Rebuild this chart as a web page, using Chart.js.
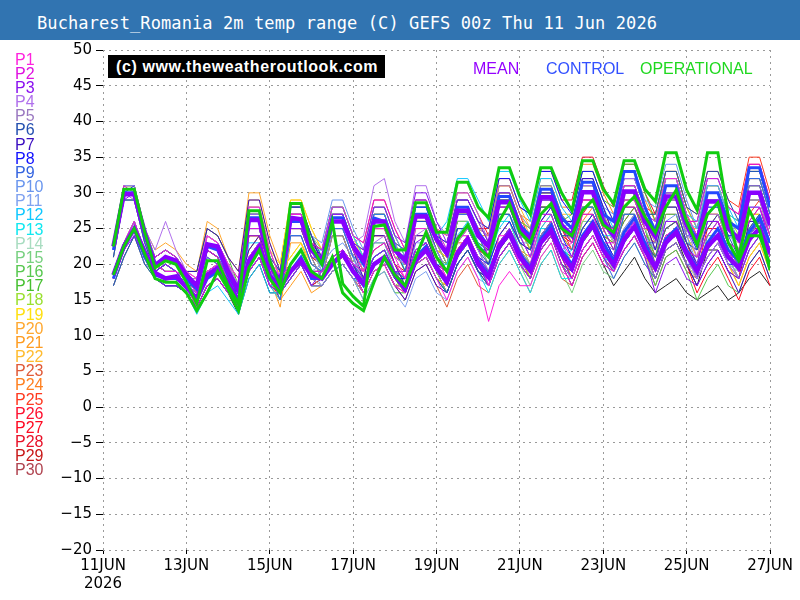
<!DOCTYPE html>
<html lang="en">
<head>
  <meta charset="UTF-8">
  <title>Bucharest_Romania 2m temp range (C) GEFS 00z</title>
  <script src="https://cdn.jsdelivr.net/npm/chart.js"></script>
  <style>
    body { margin: 0; background: #fff; }
    #wrap { position: relative; width: 800px; height: 600px; overflow: hidden; }
    canvas { position: absolute; left: 0; top: 0; }
    #titleBar { position: absolute; left: 0; top: 0; width: 800px; height: 40px; background: #3174b1; }
    #titleBar span { position: absolute; left: 37px; top: 15px; color: #fff; font: 17px 'DejaVu Sans Mono', monospace; line-height: 17px; letter-spacing: 0.1px; white-space: pre; }
    .plabel { position: absolute; left: 15px; font: 16px 'Liberation Sans', Arial, sans-serif; line-height: 16px; }
    #stamp { position: absolute; left: 108px; top: 55px; width: 277px; height: 23px; background: #000; color: #fff; font: bold 16px 'Liberation Sans', Arial, sans-serif; line-height: 23px; padding-left: 8px; box-sizing: border-box; letter-spacing: 0.6px; white-space: pre; }
    .key { position: absolute; top: 61px; font: 16px 'Liberation Sans', Arial, sans-serif; line-height: 16px; }
  </style>
</head>
<body>
  <div id="wrap">
    <canvas id="chart" width="800" height="600"></canvas>
    <div id="titleBar"><span>Bucharest_Romania 2m temp range (C) GEFS 00z Thu 11 Jun 2026</span></div>
    <div id="stamp">(c) www.theweatheroutlook.com</div>
    <div class="key" style="left:473px;color:#9400ff">MEAN</div>
    <div class="key" style="left:546px;color:#3250ff">CONTROL</div>
    <div class="key" style="left:640px;color:#1fd81f">OPERATIONAL</div>
    <div id="plabels"></div>
  </div>

  <script>
    // forecast hours from 11 Jun 00z, 6-hourly steps
    const hours = [6,12,18,24,30,36,42,48,54,60,66,72,78,84,90,96,102,108,114,120,126,132,138,144,150,156,162,168,174,180,186,192,198,204,210,216,222,228,234,240,246,252,258,264,270,276,282,288,294,300,306,312,318,324,330,336,342,348,354,360,366,372,378,384];

    const meanMax = [22.5,29.8,29.8,24.5, 19.8,21,20.5,18.5, 17,22.8,22.5,19, 16.3,26.2,26.2,20, 17.5,26.5,26.3,22, 20.5,26,26,22.5, 20.5,26,26,22, 20.5,26.7,26.7,23.5, 21.5,27.5,27.5,24, 22.5,28.7,28.7,25, 23.3,29.4,29.4,25.5, 24,30.1,30.1,26, 24,30.2,30.2,26, 23.9,29.5,29.5,25.5, 23,28.8,28.8,25, 23.5,30,30,25.5];
    const meanMin = [18.5,22.5,25,21.8, 18.8,18,18.3,16.8, 15.2,18.5,19.5,17.5, 14.8,20.5,22.5,18.4, 16.8,19,20.5,18.5, 18,20,21.5,19, 17.3,20,21,18.5, 16.6,20.5,22,19.5, 17.5,21.5,23.5,20, 18.2,22.5,24.3,21, 19.1,23,24.7,21.5, 19.4,23.5,25.5,22, 19.9,23.5,25.3,22, 19.5,23,24.5,21.5, 19,22.5,24,21, 19.5,23.5,25,21.5];

    const ctrlMax = [22,30,30,24, 20,21,20.5,18, 16.5,22.5,22,18.5, 16,26.5,26.5,20, 17,26,26,22, 20,26.5,26.5,22.5, 20,26.5,26,22, 20.5,27,27,23.5, 21.5,28,28,24.5, 22.5,29.5,29.5,25.5, 24,30.5,30.5,26.5, 25,31.5,31.5,27, 26,33,33,28, 24.5,31,31,26, 23.5,30,30,26, 25,33.5,33.5,28];
    const ctrlMin = [18,22.5,25,21, 18.5,18,18,17, 15,18,19,17, 15,20,22,18, 16.5,19,21,18, 18,20,21.5,19, 17,20,21,18.5, 17,21,22.5,19.5, 17.5,21.5,23.5,20.5, 18.5,22.5,24.5,21.5, 19.5,23.5,25.5,22, 20,24,26,23, 20.5,24.5,26.5,23, 19.5,23.5,25,22, 19.5,23,25,22, 20.5,24.5,26.5,23];

    const opMax = [22.5,30.5,30.5,24.5, 19.5,20.5,20,17.5, 14.5,20.5,20.5,17, 14.5,27.5,27.5,20.5, 17,28.5,28.5,22.5, 20,26,17.3,15.5, 14.1,25.3,25.5,22, 22,28.6,28.6,24.5, 24.5,31.5,31.5,28, 26.5,33.5,33.5,29.5, 27,33.5,33.5,30, 27.5,34.5,34.5,30.5, 28.5,34.5,34.5,30.5, 28.8,35.6,35.6,30.4, 27.6,35.6,35.6,26.7, 21,27.6,24.8,19.2];
    const opMin = [18.5,22.5,25,21.5, 18,17.5,17.5,16, 13.5,16,19,16.5, 13.5,19.5,22,18, 16,20,22,19, 18,21,16,14.5, 13.5,17.5,21,18.5, 17,21,24.5,21, 19,23.5,25.5,22.5, 21,26,28.5,24.5, 23,27,28.5,25, 24,27.5,29,25.5, 24.5,28,29.5,26.7, 24.4,28,30.4,26, 22.7,27,28.6,23, 20.5,24,24,20];

    // perturbation members P1..P30, upper (6h max) and lower (6h min) traces
    const pertMax = [
      [22,30,30,24,21,22,21,19,18,24,23,20,18,28,28,22,18,27,27,23,20,26,26,22,19,25,25,21,18,25,25,21,18,24,24,21,17,24,24,20,20,26,26,22,23,29,29,25,25,31,31,27,26,32,32,27,24,30,30,26,23,30,30,25],
      [23,31,30,25,20,21,20,18,16,22,21,18,15,25,25,19,18,27,27,23,22,28,28,24,23,29,29,25,22,29,29,25,22,28,28,25,21,28,28,24,21,27,27,23,21,27,27,23,23,29,29,25,25,31,31,26,26,32,32,28,27,34,34,29],
      [22,29,30,24,19,20,19,17,15,21,20,17,14,24,24,18,16,25,25,21,21,27,27,23,22,28,28,24,23,30,30,26,23,29,29,26,23,30,30,26,23,29,29,25,23,29,29,25,22,28,28,24,20,26,26,21,20,26,26,22,21,28,28,23],
      [23,31,31,25,22,26,22,19,18,24,23,20,17,27,27,21,17,26,26,22,21,27,27,23,24,31,32,26,23,31,31,26,24,30,30,27,23,30,30,26,23,29,29,25,25,31,31,27,26,32,32,28,24,30,30,25,21,27,27,23,22,29,29,24],
      [22,30,29,24,20,21,20,18,18,24,23,20,16,26,26,20,16,25,25,21,18,24,24,20,19,25,25,21,20,27,27,23,22,28,28,25,24,31,31,27,25,31,31,27,25,31,31,27,24,30,30,26,23,29,29,24,23,29,29,25,24,31,31,26],
      [21,29,29,23,19,20,19,17,17,23,22,19,17,27,27,21,19,28,28,24,21,27,27,23,20,26,26,22,19,26,26,22,19,25,25,22,20,27,27,23,22,28,28,24,24,30,30,26,25,31,31,27,27,33,33,28,27,33,33,29,26,33,33,28],
      [22,30,30,24,21,22,21,19,19,25,24,21,19,29,29,23,19,28,28,24,20,26,26,22,18,24,24,20,17,24,24,20,19,25,25,22,22,29,29,25,24,30,30,26,26,32,32,28,24,30,30,26,22,28,28,23,20,26,26,22,19,26,26,21],
      [22,30,31,24,19,20,19,17,16,22,21,18,16,26,26,20,18,27,27,23,21,27,27,23,20,26,26,22,21,28,28,24,23,29,29,26,25,32,32,28,27,33,33,29,27,33,33,29,26,32,32,28,24,30,30,25,22,28,28,24,24,31,31,26],
      [23,30,30,25,20,21,20,18,17,23,22,19,15,25,25,19,15,24,24,20,19,25,25,21,21,27,27,23,22,29,29,25,21,27,27,24,21,28,28,24,21,27,27,23,22,28,28,24,21,27,27,23,23,29,29,24,24,30,30,26,25,32,32,27],
      [22,30,30,24,21,22,21,19,17,23,22,19,17,27,27,21,19,28,28,24,23,29,29,25,22,28,28,24,21,28,28,24,21,27,27,24,21,28,28,24,23,29,29,25,26,32,32,28,27,33,33,29,28,34,34,29,25,31,31,27,23,30,30,25],
      [21,29,29,23,20,21,20,18,18,24,23,20,18,28,28,22,18,27,27,23,19,25,25,21,17,23,23,19,16,23,23,19,18,24,24,21,20,27,27,23,23,29,29,25,25,31,31,27,26,32,32,28,25,31,31,26,23,29,29,25,21,28,28,23],
      [22,30,30,24,19,20,19,17,15,21,20,17,13,23,23,17,15,24,24,20,19,25,25,21,20,26,26,22,21,28,28,24,26,32,32,29,26,33,33,29,26,32,32,28,26,32,32,28,25,31,31,27,26,32,32,27,26,32,32,28,25,32,32,27],
      [23,31,31,25,21,22,21,19,17,23,22,19,15,25,25,19,17,26,26,22,22,28,28,24,21,27,27,23,19,26,26,22,19,25,25,22,19,26,26,22,19,25,25,21,22,28,28,24,24,30,30,26,25,31,31,26,25,31,31,27,26,33,33,28],
      [22,30,30,24,20,21,20,18,18,24,23,20,17,27,27,21,17,26,26,22,19,25,25,21,20,26,26,22,22,29,29,25,22,28,28,25,22,29,29,25,24,30,30,26,24,30,30,26,23,29,29,25,22,28,28,23,22,28,28,24,23,30,30,25],
      [22,30,30,24,19,20,19,17,17,23,22,19,17,27,27,21,19,28,28,24,22,28,28,24,21,27,27,23,20,27,27,23,20,26,26,23,20,27,27,23,20,26,26,22,20,26,26,22,21,27,27,23,22,28,28,23,23,29,29,25,24,31,31,26],
      [21,29,29,23,19,20,19,17,15,21,20,17,15,25,25,19,17,26,26,22,21,27,27,23,22,28,28,24,21,28,28,24,21,27,27,24,23,30,30,26,25,31,31,27,25,31,31,27,23,29,29,25,21,27,27,22,18,24,24,20,19,26,26,21],
      [22,30,30,24,21,22,21,19,19,25,24,21,17,27,27,21,16,25,25,21,18,24,24,20,17,23,23,19,18,25,25,21,20,26,26,23,22,29,29,25,24,30,30,26,27,33,33,29,28,34,34,30,26,32,32,27,23,29,29,25,22,29,29,24],
      [23,31,31,25,20,21,20,18,16,22,21,18,16,26,26,20,18,27,27,23,20,26,26,22,19,25,25,21,21,28,28,24,23,29,29,26,23,30,30,26,22,28,28,24,24,30,30,26,25,31,31,27,27,33,33,28,25,31,31,27,24,31,31,26],
      [22,30,30,24,21,22,21,19,18,24,23,20,18,28,28,22,20,29,29,25,22,28,28,24,20,26,26,22,19,26,26,22,21,27,27,24,23,30,30,26,25,31,31,27,25,31,31,27,24,30,30,26,23,29,29,24,21,27,27,23,20,27,27,22],
      [23,31,31,25,22,23,22,20,19,26,25,21,19,30,30,24,20,29,29,25,22,28,28,24,21,27,27,23,20,27,27,23,22,28,28,25,24,31,31,27,24,30,30,26,23,29,29,25,22,28,28,24,24,30,30,25,24,30,30,26,25,32,32,27],
      [22,30,30,24,20,21,20,18,16,22,21,18,14,24,24,18,14,23,23,19,18,24,24,20,19,25,25,21,20,27,27,23,22,28,28,25,22,29,29,25,22,28,28,24,22,28,28,24,23,29,29,25,24,30,30,25,25,31,31,27,26,33,33,28],
      [23,31,31,25,21,22,21,19,19,25,24,21,19,29,29,23,19,28,28,24,21,27,27,23,22,28,28,24,21,28,28,24,23,29,29,26,25,32,32,28,25,31,31,27,27,33,33,29,26,32,32,28,25,31,31,26,23,29,29,25,24,31,31,26],
      [22,30,30,24,19,20,19,17,17,23,22,19,16,26,26,20,16,25,25,21,18,24,24,20,18,24,24,20,17,24,24,20,17,23,23,20,19,26,26,22,19,25,25,21,21,27,27,23,22,28,28,24,23,29,29,24,21,27,27,23,20,27,27,22],
      [23,31,31,25,20,21,20,18,18,24,23,20,18,28,28,22,18,27,27,23,21,27,27,23,20,26,26,22,19,26,26,22,21,27,27,24,24,31,31,27,26,32,32,28,28,34,34,30,27,33,33,29,26,32,32,27,24,30,30,26,25,32,32,27],
      [22,30,30,24,21,22,21,19,17,23,22,19,15,25,25,19,18,27,27,23,22,28,28,24,23,29,29,25,22,29,29,25,21,27,27,24,21,28,28,24,23,29,29,25,25,31,31,27,26,32,32,28,27,33,33,28,27,33,33,29,28,35,35,30],
      [21,29,29,23,20,21,20,18,18,24,23,20,16,26,26,20,16,25,25,21,20,26,26,22,21,27,27,23,22,29,29,25,24,30,30,27,24,31,31,27,23,29,29,25,22,28,28,24,23,29,29,25,25,31,31,26,26,32,32,28,27,34,34,29],
      [22,30,30,24,19,20,19,17,16,22,21,18,14,24,24,18,15,24,24,20,19,25,25,21,20,26,26,22,19,26,26,22,19,25,25,22,21,28,28,24,24,30,30,26,26,32,32,28,24,30,30,26,22,28,28,23,19,25,25,21,18,25,25,20],
      [22,30,30,24,20,21,20,18,18,24,23,20,17,27,27,21,19,28,28,24,20,26,26,22,19,25,25,21,20,27,27,23,22,28,28,25,25,32,32,28,27,33,33,29,29,35,35,31,28,34,34,30,27,33,33,28,25,31,31,27,26,33,33,28],
      [23,31,31,25,21,22,21,19,17,23,22,19,17,27,27,21,17,26,26,22,19,25,25,21,18,24,24,20,19,26,26,22,21,27,27,24,23,30,30,26,23,29,29,25,23,29,29,25,25,31,31,27,26,32,32,27,24,30,30,26,25,32,32,27],
      [22,30,30,24,19,20,19,17,16,22,21,18,16,26,26,20,18,27,27,23,22,28,28,24,21,27,27,23,20,27,27,23,20,26,26,23,20,27,27,23,22,28,28,24,24,30,30,26,23,29,29,25,21,27,27,22,21,27,27,23,22,29,29,24]
    ];
    const pertMin = [
      [18,22,25,21,20,19,19,18,16,19,20,18,16,21,23,19,18,20,22,19,18,20,21,19,16,19,20,17,16,20,21,18,15,19,21,18,12,17,19,17,17,21,23,19,18,22,24,21,21,24,26,23,20,24,25,22,20,23,25,22,19,23,25,21],
      [19,23,26,22,19,18,18,17,14,17,18,16,14,19,21,17,18,20,22,19,19,21,22,20,19,22,23,20,18,22,23,20,18,22,24,21,17,21,23,20,18,22,24,20,17,21,23,20,19,22,24,21,20,24,25,22,21,24,26,23,22,26,28,24],
      [18,22,24,21,18,17,17,16,14,17,18,16,14,19,21,17,16,18,20,17,19,21,22,20,18,21,22,19,19,23,24,21,18,22,24,21,19,23,25,22,19,23,25,21,18,22,24,21,19,22,24,21,16,20,21,18,17,20,22,19,18,22,24,20],
      [19,23,26,22,20,20,19,18,16,19,20,18,16,21,23,19,17,19,21,18,19,21,22,20,20,23,24,21,20,24,25,22,19,23,25,22,19,23,25,22,19,23,25,21,20,24,26,23,21,24,26,23,19,23,24,21,18,21,23,20,18,22,24,20],
      [18,22,25,21,19,18,18,17,16,19,20,18,15,20,22,18,16,18,20,17,17,19,20,18,16,19,20,17,17,21,22,19,18,22,24,21,19,23,25,22,20,24,26,22,20,24,26,23,20,23,25,22,18,22,23,20,19,22,24,21,20,24,26,22],
      [17,21,24,20,18,17,17,16,15,18,19,17,16,21,23,19,18,20,22,19,19,21,22,20,17,20,21,18,16,20,21,18,16,20,22,19,17,21,23,20,18,22,24,20,19,23,25,22,21,24,26,23,21,25,26,23,22,25,27,24,21,25,27,23],
      [18,22,25,21,20,19,19,18,16,19,20,18,17,22,24,20,18,20,22,19,18,20,21,19,16,19,20,17,15,19,20,17,16,20,22,19,18,22,24,21,20,24,26,22,20,24,26,23,20,23,25,22,18,22,23,20,17,20,22,19,16,20,22,18],
      [18,22,25,21,18,17,17,16,14,17,18,16,15,20,22,18,18,20,22,19,19,21,22,20,17,20,21,18,18,22,23,20,18,22,24,21,20,24,26,23,22,26,28,24,21,25,27,24,21,24,26,23,19,23,24,21,18,21,23,20,20,24,26,22],
      [19,23,25,22,19,18,18,17,15,18,19,17,14,19,21,17,16,18,20,17,17,19,20,18,18,21,22,19,18,22,23,20,17,21,23,20,17,21,23,20,18,22,24,20,18,22,24,21,18,21,23,20,18,22,23,20,20,23,25,22,20,24,26,22],
      [18,22,25,21,20,19,19,18,15,18,19,17,16,21,23,19,18,20,22,19,20,22,23,21,18,21,22,19,18,22,23,20,17,21,23,20,17,21,23,20,19,23,25,21,20,24,26,23,22,25,27,24,22,26,27,24,20,23,25,22,19,23,25,21],
      [17,21,24,20,19,18,18,17,16,19,20,18,16,21,23,19,18,20,22,19,17,19,20,18,15,18,19,16,14,18,19,16,15,19,21,18,17,21,23,20,19,23,25,21,20,24,26,23,21,24,26,23,20,24,25,22,19,22,24,21,18,22,24,20],
      [18,22,25,21,18,17,17,16,13,16,17,15,13,18,20,16,16,18,20,17,17,19,20,18,17,20,21,18,18,22,23,20,20,24,26,23,21,25,27,24,21,25,27,23,20,24,26,23,21,24,26,23,20,24,25,22,21,24,26,23,20,24,26,22],
      [19,23,26,22,20,19,19,18,15,18,19,17,14,19,21,17,17,19,21,18,19,21,22,20,18,21,22,19,16,20,21,18,16,20,22,19,16,20,22,19,16,20,22,18,18,22,24,21,20,23,25,22,20,24,25,22,20,23,25,22,21,25,27,23],
      [18,22,25,21,19,18,18,17,16,19,20,18,16,21,23,19,17,19,21,18,17,19,20,18,17,20,21,18,18,22,23,20,18,22,24,21,18,22,24,21,20,24,26,22,19,23,25,22,19,22,24,21,18,22,23,20,18,21,23,20,19,23,25,21],
      [18,22,25,21,18,17,17,16,15,18,19,17,16,21,23,19,18,20,22,19,19,21,22,20,18,21,22,19,17,21,22,19,16,20,22,19,17,21,23,20,17,21,23,19,16,20,22,19,18,21,23,20,18,22,23,20,19,22,24,21,20,24,26,22],
      [17,21,24,20,18,17,17,16,14,17,18,16,14,19,21,17,17,19,21,18,19,21,22,20,18,21,22,19,18,22,23,20,17,21,23,20,19,23,25,22,20,24,26,22,20,24,26,23,19,22,24,21,17,21,22,19,15,18,20,17,16,20,22,18],
      [18,22,25,21,20,19,19,18,16,19,20,18,16,21,23,19,16,18,20,17,17,19,20,18,15,18,19,16,16,20,21,18,16,20,22,19,18,22,24,21,20,24,26,22,21,25,27,24,23,26,28,25,20,24,25,22,19,22,24,21,18,22,24,20],
      [19,23,26,22,19,18,18,17,14,17,18,16,15,20,22,18,18,20,22,19,18,20,21,19,16,19,20,17,18,22,23,20,18,22,24,21,19,23,25,22,18,22,24,20,19,23,25,22,21,24,26,23,21,25,26,23,20,23,25,22,20,24,26,22],
      [18,22,25,21,20,19,19,18,16,19,20,18,16,21,23,19,19,21,23,20,19,21,22,20,17,20,21,18,16,20,21,18,17,21,23,20,19,23,25,22,20,24,26,22,20,24,26,23,20,23,25,22,18,22,23,20,18,21,23,20,17,21,23,19],
      [19,23,26,22,20,19,19,18,16,19,20,18,17,22,24,20,19,21,23,20,19,21,22,20,18,21,22,19,17,21,22,19,18,22,24,21,19,23,25,22,20,24,26,22,18,22,24,21,19,22,24,21,19,23,24,21,20,23,25,22,20,24,26,22],
      [18,22,25,21,19,18,18,17,14,17,18,16,14,19,21,17,15,17,19,16,17,19,20,18,16,19,20,17,17,21,22,19,18,22,24,21,18,22,24,21,18,22,24,20,18,22,24,21,19,22,24,21,19,23,24,21,20,23,25,22,21,25,27,23],
      [19,23,26,22,20,19,19,18,16,19,20,18,17,22,24,20,18,20,22,19,19,21,22,20,18,21,22,19,18,22,23,20,18,22,24,21,20,24,26,23,20,24,26,22,21,25,27,24,21,24,26,23,20,24,25,22,19,22,24,21,20,24,26,22],
      [18,22,25,21,18,17,17,16,15,18,19,17,15,20,22,18,16,18,20,17,17,19,20,18,16,19,20,17,15,19,20,17,14,18,20,17,16,20,22,19,16,20,22,18,17,21,23,20,19,22,24,21,18,22,23,20,18,21,23,20,17,21,23,19],
      [19,23,26,22,19,18,18,17,16,19,20,18,16,21,23,19,18,20,22,19,19,21,22,20,17,20,21,18,16,20,21,18,17,21,23,20,19,23,25,22,21,25,27,23,22,26,28,25,22,25,27,24,20,24,25,22,20,23,25,22,20,24,26,22],
      [18,22,25,21,20,19,19,18,15,18,19,17,14,19,21,17,18,20,22,19,19,21,22,20,19,22,23,20,18,22,23,20,17,21,23,20,17,21,23,20,19,23,25,21,20,24,26,23,21,24,26,23,21,25,26,23,22,25,27,24,23,27,29,25],
      [17,21,24,20,19,18,18,17,16,19,20,18,15,20,22,18,16,18,20,17,18,20,21,19,18,21,22,19,18,22,23,20,19,23,25,22,19,23,25,22,19,23,25,21,18,22,24,21,19,22,24,21,20,24,25,22,21,24,26,23,22,26,28,24],
      [18,22,25,21,18,17,17,16,14,17,18,16,14,19,21,17,16,18,20,17,17,19,20,18,17,20,21,18,16,20,21,18,16,20,22,19,17,21,23,20,20,24,26,22,20,24,26,23,20,23,25,22,18,22,23,20,16,19,21,18,15,19,21,17],
      [18,22,25,21,19,18,18,17,16,19,20,18,16,21,23,19,18,20,22,19,18,20,21,19,16,19,20,17,17,21,22,19,18,22,24,21,20,24,26,23,22,26,28,24,23,27,29,26,23,26,28,25,21,25,26,23,20,23,25,22,21,25,27,23],
      [19,23,26,22,20,19,19,18,15,18,19,17,16,21,23,19,17,19,21,18,17,19,20,18,16,19,20,17,16,20,21,18,17,21,23,20,19,23,25,22,19,23,25,21,18,22,24,21,21,24,26,23,20,24,25,22,20,23,25,22,20,24,26,22],
      [18,22,25,21,18,17,17,16,14,17,18,16,15,20,22,18,18,20,22,19,19,21,22,20,18,21,22,19,17,21,22,19,16,20,22,19,17,21,23,20,18,22,24,20,19,23,25,22,19,22,24,21,17,21,22,19,18,21,23,20,18,22,24,20]
    ];
    // unlabelled dark member seen in the spaghetti
    const darkMax = [22,30,30,24,20,21,20,18,16,22,21,18,14,24,24,18,16,25,25,21,20,26,26,22,19,25,25,21,20,27,27,23,20,26,26,23,22,29,29,25,22,28,28,24,22,28,28,24,21,27,27,23,19,24,24,20,17,22,22,19,18,24,24,20];
    const darkMin = [18,22,25,21,19,18,18,17,14,17,18,16,13,18,20,16,16,18,20,17,18,20,21,19,16,19,20,17,17,21,22,19,16,20,22,19,18,22,24,21,18,22,24,20,17,21,23,20,17,19,21,18,16,17,18,16,15,16,17,15,16,18,19,17];

    const memberNames = ['P1','P2','P3','P4','P5','P6','P7','P8','P9','P10','P11','P12','P13','P14','P15','P16','P17','P18','P19','P20','P21','P22','P23','P24','P25','P26','P27','P28','P29','P30'];
    const memberColours = ['#ff22dd','#e010e0','#8a10f0','#b070ec','#9a78c0','#2450b0','#3a0cc0','#1010ff','#3464e0','#6a96ee','#80a2f0','#10c8ff','#10e8f0','#a8dcc0','#78d080','#58c850','#46c030','#9ae030','#ffe010','#ffa830','#ff9c20','#ffbc30','#e05a38','#ff8020','#ff3a20','#ff1030','#ff0820','#e81028','#c81818','#b04450'];

    // HTML legend for members
    const plabels = document.getElementById('plabels');
    memberNames.forEach((name, i) => {
      const d = document.createElement('div');
      d.className = 'plabel';
      d.style.top = (51.5 + i * 14.17) + 'px';
      d.style.color = memberColours[i];
      d.textContent = name;
      plabels.appendChild(d);
    });

    function pts(arr) {
      return hours.map((h, i) => ({ x: h, y: arr[i] }));
    }

    const datasets = [];
    datasets.push({ label: 'OPERATIONAL max', data: pts(opMax), borderColor: '#10cc10', borderWidth: 3, order: 0 });
    datasets.push({ label: 'OPERATIONAL min', data: pts(opMin), borderColor: '#10cc10', borderWidth: 3, order: 0 });
    datasets.push({ label: 'MEAN max', data: pts(meanMax), borderColor: '#8800ff', borderWidth: 4.5, order: 1 });
    datasets.push({ label: 'MEAN min', data: pts(meanMin), borderColor: '#8800ff', borderWidth: 4.5, order: 1 });
    datasets.push({ label: 'CONTROL max', data: pts(ctrlMax), borderColor: '#2448ff', borderWidth: 3, order: 2 });
    datasets.push({ label: 'CONTROL min', data: pts(ctrlMin), borderColor: '#2448ff', borderWidth: 3, order: 2 });
    memberNames.forEach((name, i) => {
      datasets.push({ label: name + ' max', data: pts(pertMax[i]), borderColor: memberColours[i], borderWidth: 1, order: 10 });
      datasets.push({ label: name + ' min', data: pts(pertMin[i]), borderColor: memberColours[i], borderWidth: 1, order: 10 });
    });
    datasets.push({ label: 'dark max', data: pts(darkMax), borderColor: '#222', borderWidth: 1, order: 10 });
    datasets.push({ label: 'dark min', data: pts(darkMin), borderColor: '#222', borderWidth: 1, order: 10 });

    const tickFont = { family: "'DejaVu Sans', sans-serif", size: 15 };

    new Chart(document.getElementById('chart'), {
      type: 'line',
      data: { datasets: datasets },
      options: {
        responsive: false,
        animation: false,
        events: [],
        layout: { padding: { left: 0, right: 30, top: 50, bottom: 0 } },
        elements: { point: { radius: 0 }, line: { tension: 0 } },
        plugins: { legend: { display: false }, tooltip: { enabled: false } },
        scales: {
          x: {
            type: 'linear',
            min: 0,
            max: 384,
            afterFit: s => { s.height = 50; },
            grid: { color: '#9a9a9a', tickColor: '#000', tickLength: 4 },
            border: { display: false, dash: [2, 4] },
            ticks: {
              stepSize: 48,
              autoSkip: false,
              maxRotation: 0,
              padding: 3,
              color: '#000',
              font: tickFont,
              callback: v => v === 0 ? ['11JUN', '2026'] : (11 + v / 24) + 'JUN'
            }
          },
          y: {
            min: -20,
            max: 50,
            afterFit: s => { s.width = 103; },
            grid: { color: '#9a9a9a', tickColor: '#000', tickLength: 7 },
            border: { display: false, dash: [2, 4] },
            ticks: {
              stepSize: 5,
              padding: 4,
              color: '#000',
              font: tickFont,
              callback: v => v < 0 ? '\u2212' + Math.abs(v) : String(v)
            }
          }
        }
      }
    });
  </script>
</body>
</html>
